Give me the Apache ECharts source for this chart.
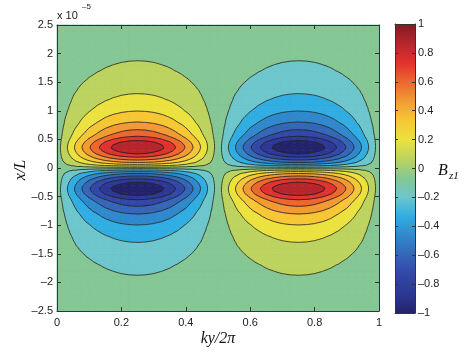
<!DOCTYPE html>
<html><head><meta charset="utf-8">
<script src="https://cdn.jsdelivr.net/npm/echarts@6/dist/echarts.min.js"></script>
<style>html,body{margin:0;padding:0;background:#fff}#c{width:474px;height:355px}</style>
</head><body><div id="c"></div>
<script>
// ky/2pi sample positions (horizontal axis)
const kyValues = [0,0.025,0.05,0.075,0.1,0.125,0.15,0.175,0.2,0.225,0.25,0.275,0.3,0.325,0.35,0.375,0.4,0.425,0.45,0.475,0.5,
  0.525,0.55,0.575,0.6,0.625,0.65,0.675,0.7,0.725,0.75,0.775,0.8,0.825,0.85,0.875,0.9,0.925,0.95,0.975,1];
// relative Bz1 amplitude along ky/2pi (read from lobe extents)
const kyProfile = [0,0.156,0.309,0.454,0.588,0.707,0.809,0.891,0.951,0.988,1,0.988,0.951,0.891,0.809,0.707,0.588,0.454,0.309,0.156,0,
  -0.156,-0.309,-0.454,-0.588,-0.707,-0.809,-0.891,-0.951,-0.988,-1,-0.988,-0.951,-0.891,-0.809,-0.707,-0.588,-0.454,-0.309,-0.156,0];
// x/L sample positions (units of 1e-5)
const xValues = [-2.5,-2.4,-2.3,-2.2,-2.1,-2.0,-1.9,-1.8,-1.7,-1.6,-1.5,-1.4,-1.3,-1.2,-1.1,-1.0,-0.9,-0.8,-0.7,-0.65,-0.6,-0.55,-0.5,-0.45,-0.4,-0.35,-0.3,-0.25,-0.2,-0.15,-0.1,-0.05,
  0,0.05,0.1,0.15,0.2,0.25,0.3,0.35,0.4,0.45,0.5,0.55,0.6,0.65,0.7,0.8,0.9,1.0,1.1,1.2,1.3,1.4,1.5,1.6,1.7,1.8,1.9,2.0,2.1,2.2,2.3,2.4,2.5];
const xProfile = [-0.022,-0.026,-0.031,-0.037,-0.044,-0.053,-0.064,-0.076,-0.09,-0.11,-0.135,-0.165,-0.2,-0.235,-0.28,-0.33,-0.4,-0.47,-0.57,-0.62,-0.67,-0.74,-0.83,-0.92,-0.98,-1.0,-0.95,-0.87,-0.76,-0.63,-0.48,-0.28,
  0,0.28,0.48,0.63,0.76,0.87,0.95,1.0,0.98,0.92,0.83,0.74,0.67,0.62,0.57,0.47,0.4,0.33,0.28,0.235,0.2,0.165,0.135,0.11,0.09,0.076,0.064,0.053,0.044,0.037,0.031,0.026,0.022];
// contour levels
const levels = [-0.867,-0.733,-0.6,-0.467,-0.333,-0.2,-0.067,0.067,0.2,0.333,0.467,0.6,0.733,0.867];
// colour scale values and colours
const scaleValues = [-1,-0.867,-0.733,-0.6,-0.467,-0.333,-0.2,-0.067,0.067,0.2,0.333,0.467,0.6,0.733,0.867,1];
const scaleColors = ['#23236b','#2d3895','#3247a8','#3566b8','#3088cc','#30ade2','#6cc6cc','#84c794','#bdd35e','#ebe23f','#f6c635','#f39a33','#ec672f','#e2322e','#b6262c','#7e1c20'];
const xTickLabels = ['0','0.2','0.4','0.6','0.8','1'];

const NY = kyValues.length, NX = xValues.length;
const bz = kyProfile.map(h => xProfile.map(g => h * g));

const cells = [];
for (let i = 0; i < NY - 1; i++)
  for (let j = 0; j < NX - 1; j++)
    cells.push([(kyValues[i] + kyValues[i+1]) / 2, (xValues[j] + xValues[j+1]) / 2, i, j]);

function bandOf(v) { let k = 0; while (k < levels.length && v >= levels[k]) k++; return k; }
function clip(poly, lvl, above) {
  const out = [];
  for (let n = 0; n < poly.length; n++) {
    const a = poly[n], b = poly[(n + 1) % poly.length];
    const ia = above ? a.v >= lvl : a.v <= lvl;
    const ib = above ? b.v >= lvl : b.v <= lvl;
    if (ia) out.push(a);
    if (ia !== ib) {
      const t = (lvl - a.v) / (b.v - a.v);
      out.push({p: [a.p[0] + t * (b.p[0] - a.p[0]), a.p[1] + t * (b.p[1] - a.p[1])], v: lvl});
    }
  }
  return out;
}
// triangles of a cell as vertex index pairs
function cellTris(i, j) {
  const q = [[i, j], [i + 1, j], [i + 1, j + 1], [i, j + 1]];
  return [[q[0], q[1], q[2]], [q[0], q[2], q[3]]];
}
function renderFill(params, api) {
  const i = api.value(2), j = api.value(3);
  const children = [];
  cellTris(i, j).forEach(t => {
    const tri = t.map(([a, b]) => ({p: api.coord([kyValues[a], xValues[b]]), v: bz[a][b]}));
    const vs = tri.map(o => o.v);
    const k0 = bandOf(Math.min(...vs)), k1 = bandOf(Math.max(...vs));
    for (let k = k0; k <= k1; k++) {
      let poly = tri;
      if (k > 0) poly = clip(poly, levels[k - 1], true);
      if (k < levels.length && poly.length) poly = clip(poly, levels[k], false);
      if (poly.length >= 3) children.push({type: 'polygon', shape: {points: poly.map(o => o.p)},
        style: {fill: scaleColors[k], stroke: scaleColors[k], lineWidth: 0.8}});
    }
  });
  return {type: 'group', children};
}
// one contour level: crossing segments chained into polylines
function renderLevel(params, api) {
  const L = api.value(2);
  const P = kyValues.map(ky => xValues.map(x => api.coord([ky, x])));
  const segs = [];
  const byKey = {};
  for (let i = 0; i < NY - 1; i++) for (let j = 0; j < NX - 1; j++) {
    cellTris(i, j).forEach(tri => {
      const hits = [];
      for (let n = 0; n < 3; n++) {
        let a = tri[n], b = tri[(n + 1) % 3];
        let ia = a[0] * NX + a[1], ib = b[0] * NX + b[1];
        if (ia > ib) { [a, b] = [b, a]; [ia, ib] = [ib, ia]; }
        const va = bz[a[0]][a[1]], vb = bz[b[0]][b[1]];
        if ((va < L) !== (vb < L)) {
          const t = (L - va) / (vb - va);
          const pa = P[a[0]][a[1]], pb = P[b[0]][b[1]];
          hits.push({k: ia + '_' + ib, p: [pa[0] + t * (pb[0] - pa[0]), pa[1] + t * (pb[1] - pa[1])]});
        }
      }
      if (hits.length === 2) {
        const s = segs.length;
        segs.push(hits);
        (byKey[hits[0].k] = byKey[hits[0].k] || []).push(s);
        (byKey[hits[1].k] = byKey[hits[1].k] || []).push(s);
      }
    });
  }
  const used = new Array(segs.length).fill(false);
  const children = [];
  function walk(key, out) {
    for (;;) {
      const nxt = (byKey[key] || []).find(s => !used[s]);
      if (nxt === undefined) return;
      used[nxt] = true;
      const h = segs[nxt];
      const other = h[0].k === key ? h[1] : h[0];
      out.push(other.p);
      key = other.k;
    }
  }
  for (let s = 0; s < segs.length; s++) {
    if (used[s]) continue;
    used[s] = true;
    const fwd = [segs[s][0].p, segs[s][1].p];
    walk(segs[s][1].k, fwd);
    const back = [];
    walk(segs[s][0].k, back);
    const pts = back.reverse().concat(fwd);
    children.push({type: 'polyline', shape: {points: pts},
      style: {stroke: '#1e1e1e', lineWidth: 0.8, fill: null, lineJoin: 'round'}});
  }
  return {type: 'group', children};
}
function renderBar(params, api) {
  const p1 = api.coord([0, 1]), p2 = api.coord([1, -1]);
  const stops = scaleValues.map((v, k) => ({offset: (1 - v) / 2, color: scaleColors[k]})).reverse();
  return {type: 'rect', shape: {x: p1[0], y: p1[1], width: p2[0] - p1[0], height: p2[1] - p1[1]},
    style: {fill: new echarts.graphic.LinearGradient(0, 0, 0, 1, stops)}};
}

const fmt = v => String(Math.round(v * 10) / 10).replace('-', '\u2013');
const labelStyle = {fontFamily: 'Liberation Sans', fontSize: 11, color: '#222'};
const lineStyle = {color: '#333', width: 1};
const tick = {show: true, inside: true, length: 4, lineStyle: {color: '#333', width: 1}};
const serif = 'italic 16px "Liberation Serif"';

const chart = echarts.init(document.getElementById('c'), null, {renderer: 'canvas'});
chart.setOption({
  animation: false,
  backgroundColor: '#fff',
  grid: [
    {left: 57, top: 25, width: 322, height: 286},
    {left: 395, top: 24, width: 20, height: 289}
  ],
  xAxis: [
    {gridIndex: 0, type: 'value', min: 0, max: 1, interval: 0.2, position: 'bottom', z: 10,
      axisLine: {show: true, onZero: false, lineStyle}, axisTick: tick, splitLine: {show: false},
      axisLabel: Object.assign({margin: 6, formatter: v => xTickLabels[Math.round(v * 5)]}, labelStyle)},
    {gridIndex: 0, type: 'value', min: 0, max: 1, interval: 0.2, position: 'top', z: 10,
      axisLine: {show: true, onZero: false, lineStyle}, axisTick: tick, splitLine: {show: false}, axisLabel: {show: false}},
    {gridIndex: 1, type: 'value', min: 0, max: 1, position: 'bottom', z: 10,
      axisLine: {show: true, onZero: false, lineStyle}, axisTick: {show: false}, splitLine: {show: false}, axisLabel: {show: false}},
    {gridIndex: 1, type: 'value', min: 0, max: 1, position: 'top', z: 10,
      axisLine: {show: true, onZero: false, lineStyle}, axisTick: {show: false}, splitLine: {show: false}, axisLabel: {show: false}}
  ],
  yAxis: [
    {gridIndex: 0, type: 'value', min: -2.5, max: 2.5, interval: 0.5, position: 'left', z: 10,
      axisLine: {show: true, onZero: false, lineStyle}, axisTick: tick, splitLine: {show: false},
      axisLabel: Object.assign({margin: 4, formatter: fmt}, labelStyle)},
    {gridIndex: 0, type: 'value', min: -2.5, max: 2.5, interval: 0.5, position: 'right', z: 10,
      axisLine: {show: true, onZero: false, lineStyle}, axisTick: tick, splitLine: {show: false}, axisLabel: {show: false}},
    {gridIndex: 1, type: 'value', min: -1, max: 1, interval: 0.2, position: 'right', z: 10,
      axisLine: {show: true, onZero: false, lineStyle}, axisTick: {show: true, inside: true, length: 3, lineStyle: {color: '#333'}},
      splitLine: {show: false}, axisLabel: Object.assign({margin: 3, formatter: fmt}, labelStyle)},
    {gridIndex: 1, type: 'value', min: -1, max: 1, interval: 0.2, position: 'left', z: 10,
      axisLine: {show: true, onZero: false, lineStyle}, axisTick: {show: true, inside: true, length: 3, lineStyle: {color: '#333'}},
      splitLine: {show: false}, axisLabel: {show: false}}
  ],
  series: [
    {type: 'custom', xAxisIndex: 0, yAxisIndex: 0, z: 1, silent: true, data: cells, encode: {x: 0, y: 1}, renderItem: renderFill},
    {type: 'custom', xAxisIndex: 0, yAxisIndex: 0, z: 2, silent: true, data: levels.map(L => [0.5, 0, L]), encode: {x: 0, y: 1}, renderItem: renderLevel},
    {type: 'custom', xAxisIndex: 2, yAxisIndex: 2, z: 1, silent: true, data: [[0.5, 0]], encode: {x: 0, y: 1}, renderItem: renderBar}
  ],
  graphic: [
    {type: 'text', x: 218, y: 339, style: {text: 'ky/2\u03c0', font: serif, fill: '#111', textAlign: 'center', textVerticalAlign: 'middle'}},
    {type: 'text', x: 21, y: 170, rotation: Math.PI / 2, style: {text: 'x/L', font: serif, fill: '#111', textAlign: 'center', textVerticalAlign: 'middle'}},
    {type: 'text', x: 438, y: 171, style: {text: 'B', font: serif, fill: '#111', textAlign: 'left', textVerticalAlign: 'middle'}},
    {type: 'text', x: 449, y: 176, style: {text: 'z1', font: 'italic 11px "Liberation Serif"', fill: '#111', textAlign: 'left', textVerticalAlign: 'middle'}},
    {type: 'text', x: 57, y: 16, style: {text: 'x 10', font: '11px "Liberation Sans"', fill: '#222', textAlign: 'left', textVerticalAlign: 'middle'}},
    {type: 'text', x: 82, y: 7, style: {text: '\u20135', font: '8px "Liberation Sans"', fill: '#222', textAlign: 'left', textVerticalAlign: 'middle'}}
  ]
});
</script></body></html>
